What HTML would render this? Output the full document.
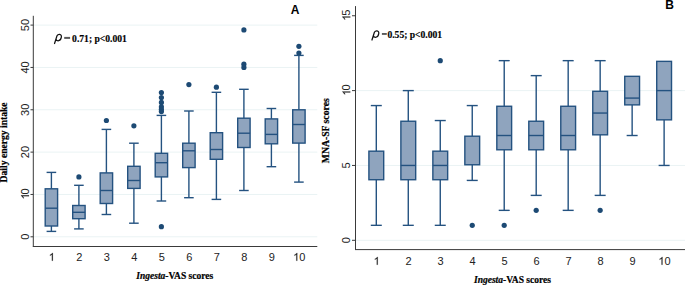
<!DOCTYPE html>
<html><head><meta charset="utf-8"><style>
html,body{margin:0;padding:0;background:#fff;}
body{width:685px;height:285px;overflow:hidden;}
svg{display:block;}
.tk{font-family:"Liberation Sans",sans-serif;font-size:11px;fill:#222;}
.ti{font-family:"Liberation Serif",serif;font-weight:bold;fill:#000;stroke:#000;stroke-width:0.2px;}
.an{font-family:"Liberation Serif",serif;font-weight:bold;fill:#000;stroke:#000;stroke-width:0.15px;}
.rho{font-family:"Liberation Sans",sans-serif;font-style:italic;fill:#000;}
.lab{font-family:"Liberation Sans",sans-serif;font-weight:bold;fill:#000;}
</style></head><body>
<svg width="685" height="285" viewBox="0 0 685 285">
<rect width="685" height="285" fill="#fff"/>
<line x1="33.3" y1="236.80" x2="317.3" y2="236.80" stroke="#eaf3f4" stroke-width="1"/>
<line x1="33.3" y1="194.46" x2="317.3" y2="194.46" stroke="#eaf3f4" stroke-width="1"/>
<line x1="33.3" y1="152.12" x2="317.3" y2="152.12" stroke="#eaf3f4" stroke-width="1"/>
<line x1="33.3" y1="109.78" x2="317.3" y2="109.78" stroke="#eaf3f4" stroke-width="1"/>
<line x1="33.3" y1="67.44" x2="317.3" y2="67.44" stroke="#eaf3f4" stroke-width="1"/>
<line x1="33.3" y1="25.10" x2="317.3" y2="25.10" stroke="#eaf3f4" stroke-width="1"/>
<line x1="51.40" y1="172.4" x2="51.40" y2="188.80" stroke="#245280" stroke-width="1.4"/>
<line x1="46.60" y1="172.4" x2="56.20" y2="172.4" stroke="#245280" stroke-width="1.4"/>
<line x1="51.40" y1="226.00" x2="51.40" y2="231.4" stroke="#245280" stroke-width="1.4"/>
<line x1="46.60" y1="231.4" x2="56.20" y2="231.4" stroke="#245280" stroke-width="1.4"/>
<rect x="45.20" y="188.80" width="12.40" height="37.20" fill="#8fa4be" stroke="#245280" stroke-width="1.4"/>
<line x1="45.20" y1="208.2" x2="57.60" y2="208.2" stroke="#245280" stroke-width="1.4"/>
<line x1="78.90" y1="185.3" x2="78.90" y2="205.50" stroke="#245280" stroke-width="1.4"/>
<line x1="74.10" y1="185.3" x2="83.70" y2="185.3" stroke="#245280" stroke-width="1.4"/>
<line x1="78.90" y1="218.70" x2="78.90" y2="228.9" stroke="#245280" stroke-width="1.4"/>
<line x1="74.10" y1="228.9" x2="83.70" y2="228.9" stroke="#245280" stroke-width="1.4"/>
<rect x="72.70" y="205.50" width="12.40" height="13.20" fill="#8fa4be" stroke="#245280" stroke-width="1.4"/>
<line x1="72.70" y1="212.3" x2="85.10" y2="212.3" stroke="#245280" stroke-width="1.4"/>
<circle cx="78.90" cy="176.9" r="2.6" fill="#1d4a74"/>
<line x1="106.40" y1="129.4" x2="106.40" y2="172.90" stroke="#245280" stroke-width="1.4"/>
<line x1="101.60" y1="129.4" x2="111.20" y2="129.4" stroke="#245280" stroke-width="1.4"/>
<line x1="106.40" y1="203.50" x2="106.40" y2="214.5" stroke="#245280" stroke-width="1.4"/>
<line x1="101.60" y1="214.5" x2="111.20" y2="214.5" stroke="#245280" stroke-width="1.4"/>
<rect x="100.20" y="172.90" width="12.40" height="30.60" fill="#8fa4be" stroke="#245280" stroke-width="1.4"/>
<line x1="100.20" y1="190.5" x2="112.60" y2="190.5" stroke="#245280" stroke-width="1.4"/>
<circle cx="106.40" cy="120.5" r="2.6" fill="#1d4a74"/>
<line x1="133.90" y1="143.2" x2="133.90" y2="166.30" stroke="#245280" stroke-width="1.4"/>
<line x1="129.10" y1="143.2" x2="138.70" y2="143.2" stroke="#245280" stroke-width="1.4"/>
<line x1="133.90" y1="188.40" x2="133.90" y2="223.2" stroke="#245280" stroke-width="1.4"/>
<line x1="129.10" y1="223.2" x2="138.70" y2="223.2" stroke="#245280" stroke-width="1.4"/>
<rect x="127.70" y="166.30" width="12.40" height="22.10" fill="#8fa4be" stroke="#245280" stroke-width="1.4"/>
<line x1="127.70" y1="180.5" x2="140.10" y2="180.5" stroke="#245280" stroke-width="1.4"/>
<circle cx="133.90" cy="125.8" r="2.6" fill="#1d4a74"/>
<line x1="161.40" y1="115.4" x2="161.40" y2="153.30" stroke="#245280" stroke-width="1.4"/>
<line x1="156.60" y1="115.4" x2="166.20" y2="115.4" stroke="#245280" stroke-width="1.4"/>
<line x1="161.40" y1="176.90" x2="161.40" y2="201.0" stroke="#245280" stroke-width="1.4"/>
<line x1="156.60" y1="201.0" x2="166.20" y2="201.0" stroke="#245280" stroke-width="1.4"/>
<rect x="155.20" y="153.30" width="12.40" height="23.60" fill="#8fa4be" stroke="#245280" stroke-width="1.4"/>
<line x1="155.20" y1="162.7" x2="167.60" y2="162.7" stroke="#245280" stroke-width="1.4"/>
<circle cx="161.40" cy="92.6" r="2.6" fill="#1d4a74"/>
<circle cx="161.40" cy="97.6" r="2.6" fill="#1d4a74"/>
<circle cx="161.40" cy="102.4" r="2.6" fill="#1d4a74"/>
<circle cx="161.40" cy="106.8" r="2.6" fill="#1d4a74"/>
<circle cx="161.40" cy="109.3" r="2.6" fill="#1d4a74"/>
<circle cx="161.40" cy="111.6" r="2.6" fill="#1d4a74"/>
<circle cx="161.40" cy="226.7" r="2.6" fill="#1d4a74"/>
<line x1="188.90" y1="111.0" x2="188.90" y2="143.20" stroke="#245280" stroke-width="1.4"/>
<line x1="184.10" y1="111.0" x2="193.70" y2="111.0" stroke="#245280" stroke-width="1.4"/>
<line x1="188.90" y1="167.60" x2="188.90" y2="197.7" stroke="#245280" stroke-width="1.4"/>
<line x1="184.10" y1="197.7" x2="193.70" y2="197.7" stroke="#245280" stroke-width="1.4"/>
<rect x="182.70" y="143.20" width="12.40" height="24.40" fill="#8fa4be" stroke="#245280" stroke-width="1.4"/>
<line x1="182.70" y1="150.8" x2="195.10" y2="150.8" stroke="#245280" stroke-width="1.4"/>
<circle cx="188.90" cy="84.6" r="2.6" fill="#1d4a74"/>
<line x1="216.40" y1="92.3" x2="216.40" y2="132.70" stroke="#245280" stroke-width="1.4"/>
<line x1="211.60" y1="92.3" x2="221.20" y2="92.3" stroke="#245280" stroke-width="1.4"/>
<line x1="216.40" y1="159.30" x2="216.40" y2="199.4" stroke="#245280" stroke-width="1.4"/>
<line x1="211.60" y1="199.4" x2="221.20" y2="199.4" stroke="#245280" stroke-width="1.4"/>
<rect x="210.20" y="132.70" width="12.40" height="26.60" fill="#8fa4be" stroke="#245280" stroke-width="1.4"/>
<line x1="210.20" y1="149.5" x2="222.60" y2="149.5" stroke="#245280" stroke-width="1.4"/>
<circle cx="216.40" cy="87.2" r="2.6" fill="#1d4a74"/>
<line x1="243.90" y1="89.3" x2="243.90" y2="118.20" stroke="#245280" stroke-width="1.4"/>
<line x1="239.10" y1="89.3" x2="248.70" y2="89.3" stroke="#245280" stroke-width="1.4"/>
<line x1="243.90" y1="147.50" x2="243.90" y2="190.5" stroke="#245280" stroke-width="1.4"/>
<line x1="239.10" y1="190.5" x2="248.70" y2="190.5" stroke="#245280" stroke-width="1.4"/>
<rect x="237.70" y="118.20" width="12.40" height="29.30" fill="#8fa4be" stroke="#245280" stroke-width="1.4"/>
<line x1="237.70" y1="133.2" x2="250.10" y2="133.2" stroke="#245280" stroke-width="1.4"/>
<circle cx="243.90" cy="29.9" r="2.6" fill="#1d4a74"/>
<circle cx="243.90" cy="64.2" r="2.6" fill="#1d4a74"/>
<circle cx="243.90" cy="67.4" r="2.6" fill="#1d4a74"/>
<line x1="271.40" y1="108.5" x2="271.40" y2="118.90" stroke="#245280" stroke-width="1.4"/>
<line x1="266.60" y1="108.5" x2="276.20" y2="108.5" stroke="#245280" stroke-width="1.4"/>
<line x1="271.40" y1="143.80" x2="271.40" y2="166.7" stroke="#245280" stroke-width="1.4"/>
<line x1="266.60" y1="166.7" x2="276.20" y2="166.7" stroke="#245280" stroke-width="1.4"/>
<rect x="265.20" y="118.90" width="12.40" height="24.90" fill="#8fa4be" stroke="#245280" stroke-width="1.4"/>
<line x1="265.20" y1="134.4" x2="277.60" y2="134.4" stroke="#245280" stroke-width="1.4"/>
<line x1="298.90" y1="55.4" x2="298.90" y2="109.80" stroke="#245280" stroke-width="1.4"/>
<line x1="294.10" y1="55.4" x2="303.70" y2="55.4" stroke="#245280" stroke-width="1.4"/>
<line x1="298.90" y1="143.10" x2="298.90" y2="182.1" stroke="#245280" stroke-width="1.4"/>
<line x1="294.10" y1="182.1" x2="303.70" y2="182.1" stroke="#245280" stroke-width="1.4"/>
<rect x="292.70" y="109.80" width="12.40" height="33.30" fill="#8fa4be" stroke="#245280" stroke-width="1.4"/>
<line x1="292.70" y1="124.5" x2="305.10" y2="124.5" stroke="#245280" stroke-width="1.4"/>
<circle cx="298.90" cy="46.3" r="2.6" fill="#1d4a74"/>
<circle cx="298.90" cy="53.0" r="2.6" fill="#1d4a74"/>
<line x1="33.3" y1="15.8" x2="33.3" y2="246.5" stroke="#3a3a3a" stroke-width="1"/>
<line x1="32.8" y1="246.5" x2="317.3" y2="246.5" stroke="#3a3a3a" stroke-width="1"/>
<line x1="30.5" y1="236.80" x2="33.3" y2="236.80" stroke="#3a3a3a" stroke-width="1"/>
<g transform="rotate(-90 29.00 236.80)"><text x="25.94" y="236.80" class="tk">0</text></g>
<line x1="30.5" y1="194.46" x2="33.3" y2="194.46" stroke="#3a3a3a" stroke-width="1"/>
<g transform="rotate(-90 29.00 194.46)"><path d="M28.18,194.46L27.21,194.46L27.21,188.30Q26.86,188.63 26.30,188.97Q25.74,189.30 25.29,189.46L25.29,188.53Q26.10,188.15 26.70,187.61Q27.31,187.06 27.56,186.55L28.18,186.55Z" fill="#222" stroke="#222" stroke-width="0.15"/><text x="29.00" y="194.46" class="tk">0</text></g>
<line x1="30.5" y1="152.12" x2="33.3" y2="152.12" stroke="#3a3a3a" stroke-width="1"/>
<g transform="rotate(-90 29.00 152.12)"><text x="22.88" y="152.12" class="tk">2</text><text x="29.00" y="152.12" class="tk">0</text></g>
<line x1="30.5" y1="109.78" x2="33.3" y2="109.78" stroke="#3a3a3a" stroke-width="1"/>
<g transform="rotate(-90 29.00 109.78)"><text x="22.88" y="109.78" class="tk">3</text><text x="29.00" y="109.78" class="tk">0</text></g>
<line x1="30.5" y1="67.44" x2="33.3" y2="67.44" stroke="#3a3a3a" stroke-width="1"/>
<g transform="rotate(-90 29.00 67.44)"><text x="22.88" y="67.44" class="tk">4</text><text x="29.00" y="67.44" class="tk">0</text></g>
<line x1="30.5" y1="25.10" x2="33.3" y2="25.10" stroke="#3a3a3a" stroke-width="1"/>
<g transform="rotate(-90 29.00 25.10)"><text x="22.88" y="25.10" class="tk">5</text><text x="29.00" y="25.10" class="tk">0</text></g>
<path d="M52.84,260.80L51.87,260.80L51.87,254.64Q51.52,254.97 50.96,255.31Q50.40,255.64 49.94,255.80L49.94,254.87Q50.76,254.49 51.36,253.95Q51.97,253.40 52.22,252.89L52.84,252.89Z" fill="#222" stroke="#222" stroke-width="0.15"/>
<text x="76.24" y="260.80" class="tk">2</text>
<text x="103.74" y="260.80" class="tk">3</text>
<text x="131.24" y="260.80" class="tk">4</text>
<text x="158.74" y="260.80" class="tk">5</text>
<text x="186.24" y="260.80" class="tk">6</text>
<text x="213.74" y="260.80" class="tk">7</text>
<text x="241.24" y="260.80" class="tk">8</text>
<text x="268.74" y="260.80" class="tk">9</text>
<path d="M297.28,260.80L296.31,260.80L296.31,254.64Q295.96,254.97 295.40,255.31Q294.84,255.64 294.39,255.80L294.39,254.87Q295.20,254.49 295.80,253.95Q296.41,253.40 296.66,252.89L297.28,252.89Z" fill="#222" stroke="#222" stroke-width="0.15"/><text x="299.30" y="260.80" class="tk">0</text>
<text x="6.60" y="142.40" class="ti" font-size="9.60" text-anchor="middle" transform="rotate(-90 6.60 142.40)">Daily energy intake</text>
<text x="174.75" y="279.10" class="ti" font-size="9.50" text-anchor="middle"><tspan font-style="italic">Ingesta</tspan>-VAS scores</text>
<path d="M54.55,43.5 L57.0,35.7 C57.5,34.7 58.5,34.25 59.6,34.3 C61.0,34.45 61.65,35.8 61.3,37.4 C60.9,39.5 59.6,40.75 58.1,40.75 C57.1,40.75 56.4,40.2 56.15,39.5" transform="translate(0.00 0.00)" fill="none" stroke="#111" stroke-width="1.25" stroke-linecap="round"/>
<text x="72.10" y="41.60" class="an" font-size="9.60">0.71; p&lt;0.001</text>
<rect x="64.2" y="36.9" width="5.9" height="2.0" fill="#5a5a5a"/>
<rect x="381.9" y="33.0" width="4.9" height="1.9" fill="#5a5a5a"/>
<text x="295.20" y="13.70" class="lab" font-size="12.00" text-anchor="middle">A</text>
<line x1="355.5" y1="240.30" x2="685" y2="240.30" stroke="#eaf3f4" stroke-width="1"/>
<line x1="355.5" y1="165.45" x2="685" y2="165.45" stroke="#eaf3f4" stroke-width="1"/>
<line x1="355.5" y1="90.60" x2="685" y2="90.60" stroke="#eaf3f4" stroke-width="1"/>
<line x1="376.30" y1="105.57" x2="376.30" y2="151.18" stroke="#245280" stroke-width="1.4"/>
<line x1="370.80" y1="105.57" x2="381.80" y2="105.57" stroke="#245280" stroke-width="1.4"/>
<line x1="376.30" y1="179.72" x2="376.30" y2="225.33" stroke="#245280" stroke-width="1.4"/>
<line x1="370.80" y1="225.33" x2="381.80" y2="225.33" stroke="#245280" stroke-width="1.4"/>
<rect x="368.90" y="151.18" width="14.80" height="28.54" fill="#8fa4be" stroke="#245280" stroke-width="1.4"/>
<line x1="408.28" y1="90.6" x2="408.28" y2="121.24" stroke="#245280" stroke-width="1.4"/>
<line x1="402.78" y1="90.6" x2="413.78" y2="90.6" stroke="#245280" stroke-width="1.4"/>
<line x1="408.28" y1="179.72" x2="408.28" y2="225.33" stroke="#245280" stroke-width="1.4"/>
<line x1="402.78" y1="225.33" x2="413.78" y2="225.33" stroke="#245280" stroke-width="1.4"/>
<rect x="400.88" y="121.24" width="14.80" height="58.48" fill="#8fa4be" stroke="#245280" stroke-width="1.4"/>
<line x1="400.88" y1="165.45" x2="415.68" y2="165.45" stroke="#245280" stroke-width="1.4"/>
<line x1="440.26" y1="120.54" x2="440.26" y2="151.18" stroke="#245280" stroke-width="1.4"/>
<line x1="434.76" y1="120.54" x2="445.76" y2="120.54" stroke="#245280" stroke-width="1.4"/>
<line x1="440.26" y1="179.72" x2="440.26" y2="225.33" stroke="#245280" stroke-width="1.4"/>
<line x1="434.76" y1="225.33" x2="445.76" y2="225.33" stroke="#245280" stroke-width="1.4"/>
<rect x="432.86" y="151.18" width="14.80" height="28.54" fill="#8fa4be" stroke="#245280" stroke-width="1.4"/>
<line x1="432.86" y1="165.45" x2="447.66" y2="165.45" stroke="#245280" stroke-width="1.4"/>
<circle cx="440.26" cy="60.66" r="2.6" fill="#1d4a74"/>
<line x1="472.24" y1="105.57" x2="472.24" y2="136.21" stroke="#245280" stroke-width="1.4"/>
<line x1="466.74" y1="105.57" x2="477.74" y2="105.57" stroke="#245280" stroke-width="1.4"/>
<line x1="472.24" y1="164.75" x2="472.24" y2="180.42" stroke="#245280" stroke-width="1.4"/>
<line x1="466.74" y1="180.42" x2="477.74" y2="180.42" stroke="#245280" stroke-width="1.4"/>
<rect x="464.84" y="136.21" width="14.80" height="28.54" fill="#8fa4be" stroke="#245280" stroke-width="1.4"/>
<circle cx="472.24" cy="225.33" r="2.6" fill="#1d4a74"/>
<line x1="504.22" y1="60.66" x2="504.22" y2="106.27" stroke="#245280" stroke-width="1.4"/>
<line x1="498.72" y1="60.66" x2="509.72" y2="60.66" stroke="#245280" stroke-width="1.4"/>
<line x1="504.22" y1="149.78" x2="504.22" y2="210.36" stroke="#245280" stroke-width="1.4"/>
<line x1="498.72" y1="210.36" x2="509.72" y2="210.36" stroke="#245280" stroke-width="1.4"/>
<rect x="496.82" y="106.27" width="14.80" height="43.51" fill="#8fa4be" stroke="#245280" stroke-width="1.4"/>
<line x1="496.82" y1="135.51" x2="511.62" y2="135.51" stroke="#245280" stroke-width="1.4"/>
<circle cx="504.22" cy="225.33" r="2.6" fill="#1d4a74"/>
<line x1="536.20" y1="75.63" x2="536.20" y2="121.24" stroke="#245280" stroke-width="1.4"/>
<line x1="530.70" y1="75.63" x2="541.70" y2="75.63" stroke="#245280" stroke-width="1.4"/>
<line x1="536.20" y1="149.78" x2="536.20" y2="195.39" stroke="#245280" stroke-width="1.4"/>
<line x1="530.70" y1="195.39" x2="541.70" y2="195.39" stroke="#245280" stroke-width="1.4"/>
<rect x="528.80" y="121.24" width="14.80" height="28.54" fill="#8fa4be" stroke="#245280" stroke-width="1.4"/>
<line x1="528.80" y1="135.51" x2="543.60" y2="135.51" stroke="#245280" stroke-width="1.4"/>
<circle cx="536.20" cy="210.36" r="2.6" fill="#1d4a74"/>
<line x1="568.18" y1="60.66" x2="568.18" y2="106.27" stroke="#245280" stroke-width="1.4"/>
<line x1="562.68" y1="60.66" x2="573.68" y2="60.66" stroke="#245280" stroke-width="1.4"/>
<line x1="568.18" y1="149.78" x2="568.18" y2="210.36" stroke="#245280" stroke-width="1.4"/>
<line x1="562.68" y1="210.36" x2="573.68" y2="210.36" stroke="#245280" stroke-width="1.4"/>
<rect x="560.78" y="106.27" width="14.80" height="43.51" fill="#8fa4be" stroke="#245280" stroke-width="1.4"/>
<line x1="560.78" y1="135.51" x2="575.58" y2="135.51" stroke="#245280" stroke-width="1.4"/>
<line x1="600.16" y1="60.66" x2="600.16" y2="91.30" stroke="#245280" stroke-width="1.4"/>
<line x1="594.66" y1="60.66" x2="605.66" y2="60.66" stroke="#245280" stroke-width="1.4"/>
<line x1="600.16" y1="134.81" x2="600.16" y2="195.39" stroke="#245280" stroke-width="1.4"/>
<line x1="594.66" y1="195.39" x2="605.66" y2="195.39" stroke="#245280" stroke-width="1.4"/>
<rect x="592.76" y="91.30" width="14.80" height="43.51" fill="#8fa4be" stroke="#245280" stroke-width="1.4"/>
<line x1="592.76" y1="113.05" x2="607.56" y2="113.05" stroke="#245280" stroke-width="1.4"/>
<circle cx="600.16" cy="210.36" r="2.6" fill="#1d4a74"/>
<line x1="632.14" y1="104.87" x2="632.14" y2="135.51" stroke="#245280" stroke-width="1.4"/>
<line x1="626.64" y1="135.51" x2="637.64" y2="135.51" stroke="#245280" stroke-width="1.4"/>
<rect x="624.74" y="76.33" width="14.80" height="28.54" fill="#8fa4be" stroke="#245280" stroke-width="1.4"/>
<line x1="624.74" y1="98.09" x2="639.54" y2="98.09" stroke="#245280" stroke-width="1.4"/>
<line x1="664.12" y1="119.84" x2="664.12" y2="165.45" stroke="#245280" stroke-width="1.4"/>
<line x1="658.62" y1="165.45" x2="669.62" y2="165.45" stroke="#245280" stroke-width="1.4"/>
<rect x="656.72" y="61.36" width="14.80" height="58.48" fill="#8fa4be" stroke="#245280" stroke-width="1.4"/>
<line x1="656.72" y1="90.6" x2="671.52" y2="90.6" stroke="#245280" stroke-width="1.4"/>
<line x1="355.5" y1="6.1" x2="355.5" y2="249.6" stroke="#3a3a3a" stroke-width="1"/>
<line x1="355.0" y1="249.6" x2="685" y2="249.6" stroke="#3a3a3a" stroke-width="1"/>
<line x1="352" y1="240.30" x2="355.5" y2="240.30" stroke="#3a3a3a" stroke-width="1"/>
<g transform="rotate(-90 350.30 240.30)"><text x="347.24" y="240.30" class="tk">0</text></g>
<line x1="352" y1="165.45" x2="355.5" y2="165.45" stroke="#3a3a3a" stroke-width="1"/>
<g transform="rotate(-90 350.30 165.45)"><text x="347.24" y="165.45" class="tk">5</text></g>
<line x1="352" y1="90.60" x2="355.5" y2="90.60" stroke="#3a3a3a" stroke-width="1"/>
<g transform="rotate(-90 350.30 90.60)"><path d="M349.48,90.60L348.51,90.60L348.51,84.44Q348.16,84.77 347.60,85.11Q347.04,85.44 346.59,85.60L346.59,84.67Q347.40,84.29 348.00,83.75Q348.61,83.20 348.86,82.69L349.48,82.69Z" fill="#222" stroke="#222" stroke-width="0.15"/><text x="350.30" y="90.60" class="tk">0</text></g>
<line x1="352" y1="15.75" x2="355.5" y2="15.75" stroke="#3a3a3a" stroke-width="1"/>
<g transform="rotate(-90 350.30 15.75)"><path d="M349.48,15.75L348.51,15.75L348.51,9.59Q348.16,9.92 347.60,10.26Q347.04,10.59 346.59,10.75L346.59,9.82Q347.40,9.44 348.00,8.90Q348.61,8.35 348.86,7.84L349.48,7.84Z" fill="#222" stroke="#222" stroke-width="0.15"/><text x="350.30" y="15.75" class="tk">5</text></g>
<path d="M377.74,264.80L376.77,264.80L376.77,258.64Q376.42,258.97 375.86,259.31Q375.30,259.64 374.84,259.80L374.84,258.87Q375.66,258.49 376.26,257.95Q376.87,257.40 377.12,256.89L377.74,256.89Z" fill="#222" stroke="#222" stroke-width="0.15"/>
<text x="405.62" y="264.80" class="tk">2</text>
<text x="437.60" y="264.80" class="tk">3</text>
<text x="469.58" y="264.80" class="tk">4</text>
<text x="501.56" y="264.80" class="tk">5</text>
<text x="533.54" y="264.80" class="tk">6</text>
<text x="565.52" y="264.80" class="tk">7</text>
<text x="597.50" y="264.80" class="tk">8</text>
<text x="629.48" y="264.80" class="tk">9</text>
<path d="M662.50,264.80L661.53,264.80L661.53,258.64Q661.18,258.97 660.62,259.31Q660.06,259.64 659.61,259.80L659.61,258.87Q660.42,258.49 661.02,257.95Q661.63,257.40 661.88,256.89L662.50,256.89Z" fill="#222" stroke="#222" stroke-width="0.15"/><text x="664.52" y="264.80" class="tk">0</text>
<text x="329.40" y="130.70" class="ti" font-size="9.70" text-anchor="middle" transform="rotate(-90 329.40 130.70)">MNA-SF scores</text>
<text x="512.45" y="283.20" class="ti" font-size="9.50" text-anchor="middle"><tspan font-style="italic">Ingesta</tspan>-VAS scores</text>
<path d="M54.55,43.5 L57.0,35.7 C57.5,34.7 58.5,34.25 59.6,34.3 C61.0,34.45 61.65,35.8 61.3,37.4 C60.9,39.5 59.6,40.75 58.1,40.75 C57.1,40.75 56.4,40.2 56.15,39.5" transform="translate(317.40 -3.50)" fill="none" stroke="#111" stroke-width="1.25" stroke-linecap="round"/>
<text x="387.40" y="37.60" class="an" font-size="9.60">0.55; p&lt;0.001</text>
<text x="669.60" y="9.10" class="lab" font-size="12.00" text-anchor="middle">B</text>
</svg>
</body></html>
